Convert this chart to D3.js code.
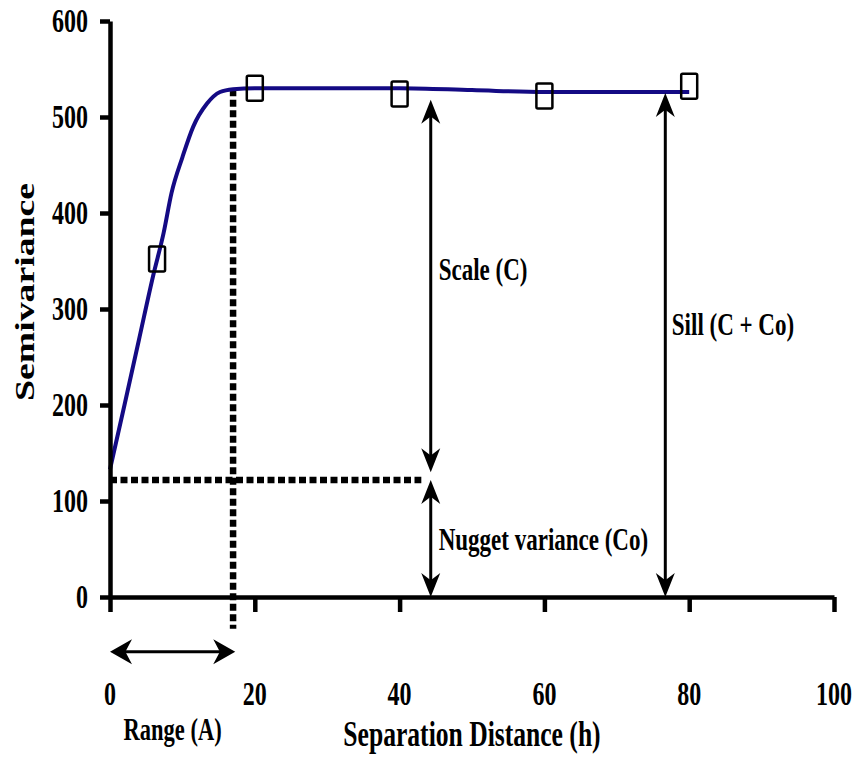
<!DOCTYPE html>
<html lang="en">
<head>
<meta charset="utf-8">
<title>Semivariogram</title>
<script src="https://cdn.jsdelivr.net/npm/d3@7/dist/d3.min.js"></script>
<style>
  body { margin: 0; background: #fff; }
  svg { display: block; }
  text { font-family: "Liberation Serif", "Times New Roman", serif; font-weight: bold; fill: #000; }
</style>
</head>
<body>
<svg id="chart" width="860" height="766"></svg>
<script>
// ticks
const xTicks = [0, 20, 40, 60, 80, 100]
const yTicks = [0, 100, 200, 300, 400, 500, 600]

// fitted model curve
const modelX = [0, 2, 4, 6, 7.4, 8.5, 10, 11.5, 13.4, 15.2, 17, 20, 30, 40, 50, 60, 70, 80]
const modelY = [133, 200, 268, 336, 379, 421, 458, 490, 514, 526, 529, 530, 530, 530, 528, 526, 526, 526]

// observed semivariance
const obsX = [6.5, 20, 40, 60, 80]
const obsY = [352, 530, 524, 522, 532]

// dotted guides: [x1, y1, x2, y2]
const guides = [
  [0, 122, 43, 122],
  [17, 529, 17, -33]
]

// double arrows: [x1, y1, x2, y2]
const arrows = [
  [44.3, 518, 44.3, 130],
  [44.3, 122, 44.3, 0],
  [76.7, 525, 76.7, 0],
  [0, -57, 17.3, -57]
]

// annotations: [x, y, text]
const notes = [
  [45.4, 330, 'Scale (C)'],
  [77.6, 273, 'Sill (C + Co)'],
  [45.4, 49, 'Nugget variance (Co)']
]

const SY = 1.4 // the picture is stretched vertically
const svg = d3.select('#chart')

const x = d3.scaleLinear().domain([0, 100]).range([110, 834])
const y = d3.scaleLinear().domain([0, 600]).range([597, 21])

function label(px, py, txt, size, anchor) {
  svg.append('text')
    .attr('transform', 'translate(' + px + ',' + py + ') scale(1,' + SY + ')')
    .attr('font-size', size)
    .attr('text-anchor', anchor || 'start')
    .text(txt)
}

// dotted guides
svg.append('g').selectAll('line')
  .data(guides)
  .join('line')
  .attr('x1', d => x(d[0])).attr('y1', d => y(d[1]))
  .attr('x2', d => x(d[2])).attr('y2', d => y(d[3]))
  .attr('stroke', '#000')
  .attr('stroke-width', 6.5)
  .attr('stroke-dasharray', '7,3.5')

// model curve
const line = d3.line().x(d => x(d[0])).y(d => y(d[1])).curve(d3.curveMonotoneX)
svg.append('path')
  .attr('d', line(modelX.map((v, i) => [v, modelY[i]])))
  .attr('fill', 'none')
  .attr('stroke', '#140a84')
  .attr('stroke-width', 4)

// observed points
svg.append('g').selectAll('rect')
  .data(obsX.map((v, i) => [v, obsY[i]]))
  .join('rect')
  .attr('x', d => x(d[0]) - 8).attr('y', d => y(d[1]) - 12.5)
  .attr('width', 16).attr('height', 25)
  .attr('rx', 1.5)
  .attr('fill', 'none')
  .attr('stroke', '#000')
  .attr('stroke-width', 2.5)

// arrows
function head(px, py, angle, len, wid) {
  svg.append('path')
    .attr('d', 'M0,0L' + (-len) + ',' + (-wid / 2) + 'L' + (-len * 0.7) + ',0L' + (-len) + ',' + (wid / 2) + 'Z')
    .attr('transform', 'translate(' + px + ',' + py + ') rotate(' + angle + ')')
    .attr('fill', '#000')
}
arrows.forEach(a => {
  const x1 = x(a[0]), y1 = y(a[1]), x2 = x(a[2]), y2 = y(a[3])
  const horiz = y1 === y2
  const len = horiz ? 22 : 24
  const wid = horiz ? 25 : 19
  const ang = Math.atan2(y2 - y1, x2 - x1) * 180 / Math.PI
  const dx = Math.cos(ang * Math.PI / 180) * len * 0.6
  const dy = Math.sin(ang * Math.PI / 180) * len * 0.6
  svg.append('line')
    .attr('x1', x1 + dx).attr('y1', y1 + dy)
    .attr('x2', x2 - dx).attr('y2', y2 - dy)
    .attr('stroke', '#000').attr('stroke-width', 3)
  head(x2, y2, ang, len, wid)
  head(x1, y1, ang + 180, len, wid)
})

// axes
svg.append('g')
  .attr('transform', 'translate(' + x(0) + ',0)')
  .call(d3.axisLeft(y).tickValues(yTicks).tickSize(10).tickSizeOuter(0).tickFormat(''))
svg.append('g')
  .attr('transform', 'translate(0,' + y(0) + ')')
  .call(d3.axisBottom(x).tickValues(xTicks).tickSize(15).tickSizeOuter(0).tickFormat(''))
svg.selectAll('.domain, .tick line')
  .attr('stroke', '#000')
  .attr('stroke-width', 4.5)

// tick labels
yTicks.forEach(v => label(88, y(v) + 10.5, String(v), 24, 'end'))
xTicks.forEach(v => label(x(v), 705, String(v), 24, 'middle'))

// annotations
notes.forEach(n => label(x(n[0]), y(n[1]), n[2], 23))
label((x(arrows[3][0]) + x(arrows[3][2])) / 2, 740, 'Range (A)', 22.5, 'middle')

// axis titles
label((x(0) + x(100)) / 2, 746, 'Separation Distance (h)', 25.6, 'middle')
svg.append('text')
  .attr('transform', 'translate(34,292) rotate(-90) scale(' + SY + ',1)')
  .attr('font-size', 27)
  .attr('text-anchor', 'middle')
  .text('Semivariance')
</script>
</body>
</html>
